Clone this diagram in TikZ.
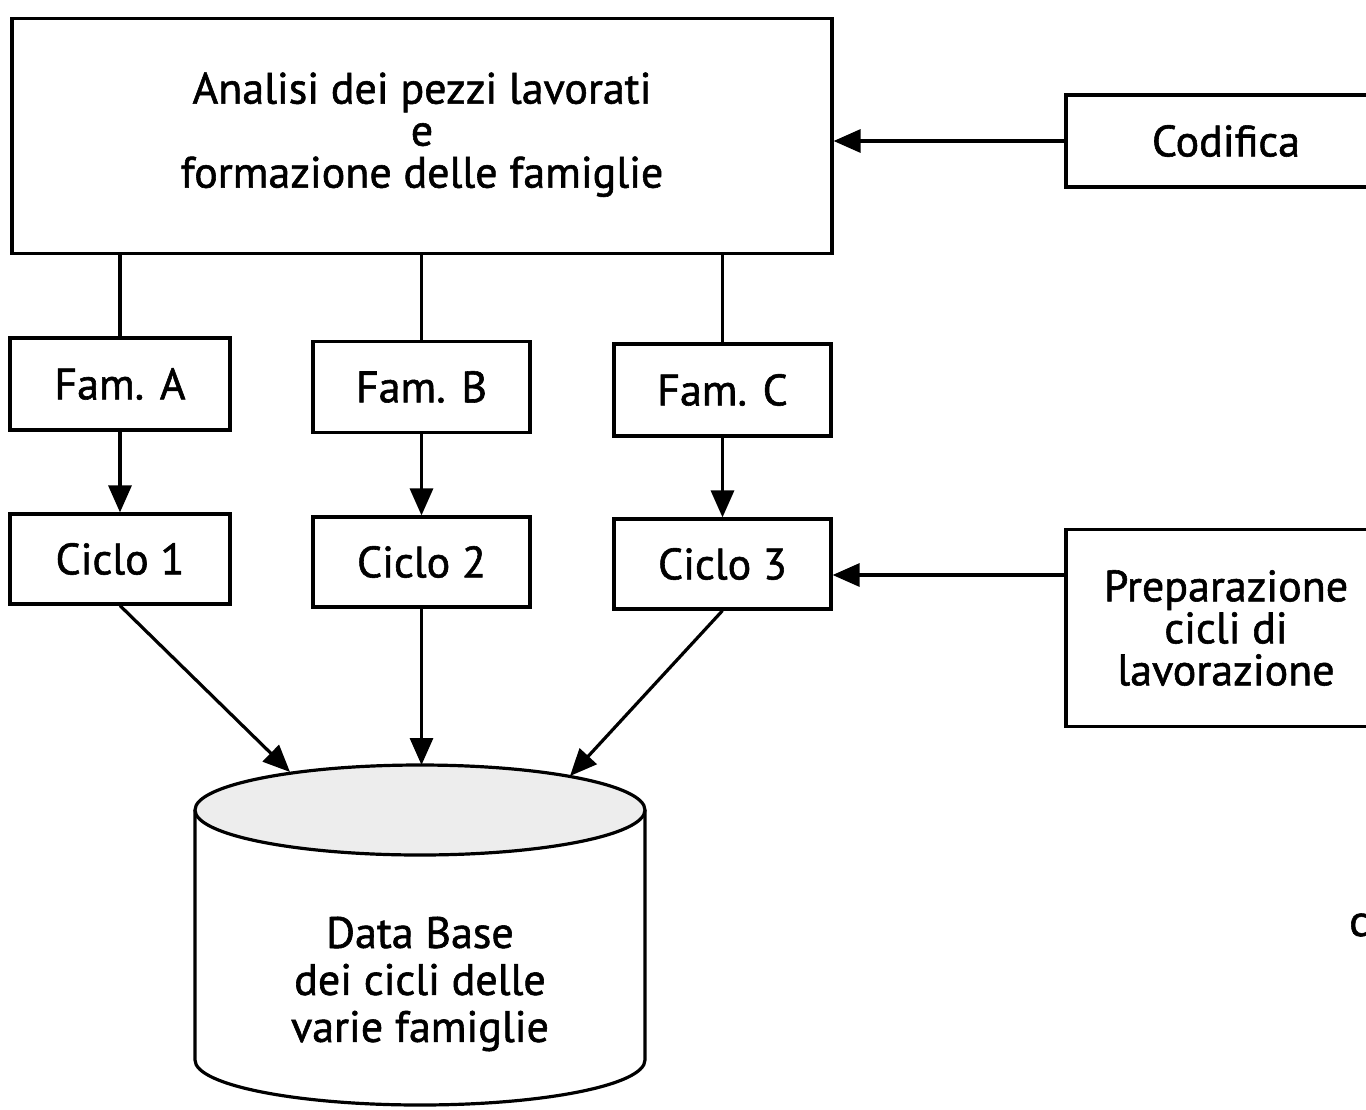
\documentclass[tikz,border=0pt]{standalone}
\usepackage{fontspec}
\setmainfont{PT Sans}[FakeBold=1.3]
\usetikzlibrary{arrows.meta,calc}
\tikzset{
  box/.style={draw=black, line width=3.2pt, fill=white, inner sep=0pt, align=center,
    font=\fontsize{44}{42}\selectfont},
  conn/.style={line width=3.2pt, draw=black},
  arr/.style={conn, -{Triangle[length=27pt,width=23pt]}},
  lbl/.style={inner sep=0pt, align=center, font=\fontsize{44}{47}\selectfont}
}
\begin{document}
\begin{tikzpicture}[x=1pt,y=-1pt]
\useasboundingbox (0,0) rectangle (1366,1109);
\clip (0,0) rectangle (1366,1109);
\fill[white] (0,0) rectangle (1366,1109);

% top box
\node[box, minimum width=820pt, minimum height=235pt] (top) at (422,136)
  {Analisi dei pezzi lavorati\\e\\formazione delle famiglie\\[-30pt]\mbox{}};

% right boxes
\node[box, minimum width=320pt, minimum height=92pt] (cod) at (1226,141) {Codifica};
\node[box, minimum width=320pt, minimum height=197pt] (prep) at (1226,628)
  {Preparazione\\cicli di\\lavorazione};

% families
\node[box, minimum width=220pt, minimum height=92pt] (famA) at (120,384) {Fam. A};
\node[box, minimum width=217pt, minimum height=91pt] (famB) at (421.5,387) {Fam. B};
\node[box, minimum width=217pt, minimum height=92pt] (famC) at (722.5,390) {Fam. C};

% cycles
\node[box, minimum width=220pt, minimum height=90pt] (cicA) at (120,559) {Ciclo 1};
\node[box, minimum width=217pt, minimum height=90pt] (cicB) at (421.5,562) {Ciclo 2};
\node[box, minimum width=217pt, minimum height=90pt] (cicC) at (722.5,564) {Ciclo 3};

% database cylinder
\draw[conn, fill=white] (195,810) -- (195,1060) arc[start angle=180, end angle=0, x radius=225, y radius=45] -- (645,810);
\draw[conn, fill=gray!14] (420,810) ellipse[x radius=225, y radius=45];
\node[lbl] (db) at (420,984) {Data Base\\dei cicli delle\\varie famiglie};
\coordinate (dbA) at (290,772);
\coordinate (dbB) at (421.5,765);
\coordinate (dbC) at (570,776);

% connectors
\draw[conn] (top.south -| famA.north) -- (famA.north);
\draw[conn] (top.south -| famB.north) -- (famB.north);
\draw[conn] (top.south -| famC.north) -- (famC.north);

\draw[arr] (famA.south) -- (cicA.north);
\draw[arr] (famB.south) -- (cicB.north);
\draw[arr] (famC.south) -- (cicC.north);

\draw[arr] (cicA.south) -- (dbA);
\draw[arr] (cicB.south) -- (dbB);
\draw[arr] (cicC.south) -- (dbC);

\draw[arr] (cod.west) -- (cod.west -| top.east);
\coordinate (pa) at (0,575);
\draw[arr] (prep.west |- pa) -- (cicC.east |- pa);

% cut-off letter at right edge (as in the reference)
\node[inner sep=0pt, anchor=west, font=\fontsize{44}{42}\selectfont] (cut) at (1349,925) {c};
\end{tikzpicture}
\end{document}
